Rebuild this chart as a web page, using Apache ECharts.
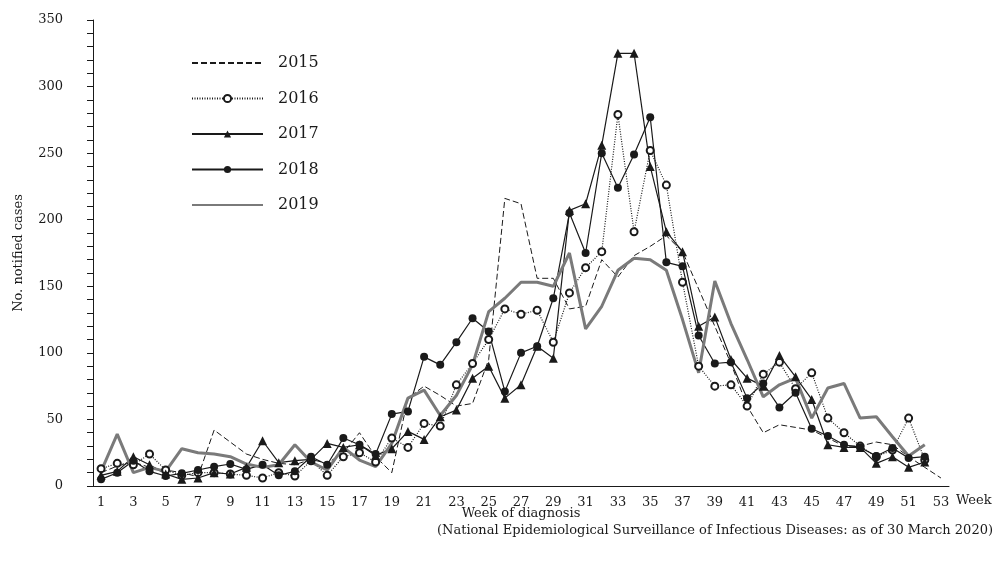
<!DOCTYPE html>
<html>
<head>
<meta charset="utf-8">
<script src="https://cdn.jsdelivr.net/npm/echarts@6/dist/echarts.min.js"></script>
<style>
html, body { margin: 0; padding: 0; background: #fff; }
#chart { width: 999px; height: 568px; }
</style>
</head>
<body>
<div id="chart"></div>
<script>
var weeks = [];
for (var i = 1; i <= 53; i++) { weeks.push(String(i)); }

var y2015 = [10, 15, 18, 14, 12, 10, 7, 42, 33, 24, 20, 17, 16, 20, 17, 25, 40, 22, 10, 66, 75, 68, 60, 62, 95, 216, 212, 156, 156, 133, 135, 170, 157, 173, 180, 188, 176, 148, 120, 92, 60, 40, 46, 44, 42, 36, 30, 30, 33, 31, 22, 14, 6];
var y2016 = [13, 17, 16, 24, 12, 8, 10, 10, 9, 8, 6, 10, 7.5, 19, 8, 22, 25, 18, 36, 29, 47, 45, 76, 92, 110, 133, 129, 132, 108, 145, 164, 176, 279, 191, 252, 226, 153, 90, 75, 76, 60, 84, 93, 73, 85, 51, 40, 30, 22, 27, 51, 19.5];
var y2017 = [8, 11, 22, 16, 9, 5, 6, 10, 9, 14, 34, 17.5, 19, 20, 32, 29, 31, 23, 28, 41, 35, 52, 57, 81, 90, 66, 76, 105, 96, 207, 212, 256, 325, 325, 240, 191, 176, 120, 127, 95, 81, 75, 98, 82, 65, 31, 29, 29, 17, 22, 14, 18];
var y2018 = [5, 10, 19, 11, 7.5, 9.5, 12, 14.5, 16.5, 12.5, 16, 8, 11, 22, 16, 36, 31, 24, 54, 56, 97, 91, 108, 126, 116, 71, 100, 105, 141, 205, 175, 250, 224, 249, 277, 168, 165, 113, 92, 93, 66, 77, 59, 70, 43, 37.5, 31, 29, 22.5, 28.5, 21, 22];
var y2019 = [11, 39, 10, 14, 11, 28, 25, 24, 22, 16.5, 14, 16, 31, 18, 12, 29, 19.5, 14.5, 32, 66, 72, 53, 68, 91, 131, 141, 153, 153, 150, 175, 118, 135, 162, 171, 170, 162, 125, 85, 154, 122, 95, 67, 76, 81, 51, 73.6, 77, 51, 52, 37, 22.5, 31];
var yearNames = ['2015', '2016', '2017', '2018', '2019'];

var font = 'DejaVu Serif';
var ink = '#1a1a1a';
var gray = '#7a7a7a';

var chart = echarts.init(document.getElementById('chart'));
var option = {
    backgroundColor: '#fff',
    animation: false,
    textStyle: { fontFamily: font, color: ink },
    grid: {
        left: 93,
        right: 50,
        top: 20,
        bottom: 82
    },
    legend: {
        orient: 'vertical',
        left: 186,
        top: 50,
        itemWidth: 71,
        itemHeight: 9,
        itemGap: 19.5,
        data: [
            { name: yearNames[0], itemStyle: { opacity: 0 } },
            { name: yearNames[1] },
            { name: yearNames[2] },
            { name: yearNames[3] },
            { name: yearNames[4], itemStyle: { opacity: 0 } }
        ],
        textStyle: {
            fontFamily: font,
            fontSize: 16,
            color: ink,
            padding: [0, 0, 0, 10]
        }
    },
    xAxis: {
        type: 'category',
        data: weeks,
        boundaryGap: true,
        name: 'Week of diagnosis',
        nameLocation: 'middle',
        nameGap: 21,
        nameMoveOverlap: false,
        nameTextStyle: { fontFamily: font, fontSize: 13, color: ink },
        axisLine: { lineStyle: { color: ink, width: 1 } },
        axisTick: { alignWithLabel: true, interval: 0, length: 8, lineStyle: { color: ink } },
        axisLabel: { interval: 1, margin: 10, fontFamily: font, fontSize: 13, color: ink },
        splitLine: { show: false }
    },
    yAxis: {
        type: 'value',
        min: 0,
        max: 350,
        interval: 50,
        name: 'No. notified cases',
        nameLocation: 'middle',
        nameGap: 68,
        nameMoveOverlap: false,
        nameTextStyle: { fontFamily: font, fontSize: 13, color: ink },
        axisLine: { show: true, lineStyle: { color: ink, width: 1 } },
        axisTick: { show: true, length: 6, lineStyle: { color: ink } },
        minorTick: { show: true, splitNumber: 5, length: 6, lineStyle: { color: ink } },
        axisLabel: { margin: 30, fontFamily: font, fontSize: 13, color: ink },
        splitLine: { show: false }
    },
    graphic: [
        {
            type: 'text',
            left: 956,
            top: 494,
            style: { text: 'Week', font: '13px "DejaVu Serif"', fill: ink }
        },
        {
            type: 'text',
            right: 6,
            top: 524,
            style: {
                text: '(National Epidemiological Surveillance of Infectious Diseases: as of 30 March 2020)',
                font: '13px "DejaVu Serif"',
                fill: ink
            }
        }
    ],
    series: [
        {
            name: '2015',
            type: 'line',
            data: y2015,
            symbol: 'none',
            lineStyle: { color: ink, width: 1, type: [6, 3] },
            itemStyle: { color: ink }
        },
        {
            name: '2016',
            type: 'line',
            data: y2016,
            symbol: 'emptyCircle',
            symbolSize: 7,
            showAllSymbol: true,
            lineStyle: { color: ink, width: 1.2, type: [1, 1.5] },
            itemStyle: { color: ink, borderWidth: 1 }
        },
        {
            name: '2017',
            type: 'line',
            data: y2017,
            symbol: 'triangle',
            symbolSize: 9,
            showAllSymbol: true,
            lineStyle: { color: ink, width: 1.2 },
            itemStyle: { color: ink }
        },
        {
            name: '2018',
            type: 'line',
            data: y2018,
            symbol: 'circle',
            symbolSize: 8,
            showAllSymbol: true,
            lineStyle: { color: ink, width: 1.2 },
            itemStyle: { color: ink }
        },
        {
            name: '2019',
            type: 'line',
            data: y2019,
            symbol: 'none',
            lineStyle: { color: gray, width: 3 },
            itemStyle: { color: gray }
        }
    ]
};
chart.setOption(option);
</script>
</body>
</html>
